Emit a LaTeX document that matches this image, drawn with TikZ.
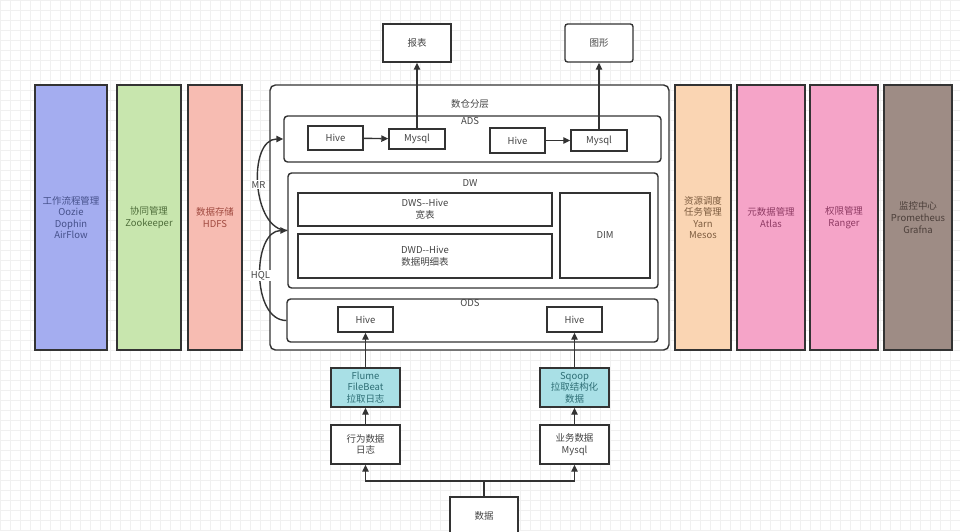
\documentclass[tikz,border=0pt]{standalone}
\usepackage{fontspec}
\setmainfont{Noto Sans CJK SC}
\usetikzlibrary{arrows.meta}

\definecolor{linec}{HTML}{333333}
\definecolor{txtc}{HTML}{444444}
\definecolor{gridc}{HTML}{F0F0F0}
\definecolor{wfblue}{HTML}{A4ADF0}
\definecolor{wftext}{HTML}{45508A}
\definecolor{zkgreen}{HTML}{C8E6AE}
\definecolor{zktext}{HTML}{4F6E3B}
\definecolor{hdfsred}{HTML}{F7BCB2}
\definecolor{hdfstext}{HTML}{A04A40}
\definecolor{yarnpeach}{HTML}{FAD5B3}
\definecolor{yarntext}{HTML}{7D5C3F}
\definecolor{metapink}{HTML}{F5A4C8}
\definecolor{metatext}{HTML}{8E3A63}
\definecolor{monbrown}{HTML}{9E8C85}
\definecolor{montext}{HTML}{4B3E39}
\definecolor{pullcyan}{HTML}{A9E0E6}
\definecolor{pulltext}{HTML}{2E6E75}

\tikzset{
  every node/.style={font=\fontsize{5.4}{6.6}\selectfont, text=txtc},
  colbox/.style={draw=linec, line width=0.8pt, minimum height=5.3cm, align=center, inner sep=0pt},
  plainbox/.style={draw=linec, line width=0.8pt, fill=white, align=center, inner sep=1pt},
  layerbox/.style={plainbox, rounded corners=2pt},
  pullbox/.style={plainbox, fill=pullcyan, text=pulltext},
  flow/.style={draw=linec, line width=0.8pt, -{Triangle[length=4pt,width=3.6pt]}},
  edgelbl/.style={fill=white, inner sep=0.6pt},
}

\begin{document}
\begin{tikzpicture}[x=0.02cm, y=-0.02cm]
  \useasboundingbox (0,0) rectangle (960,531);
  \clip (0,0) rectangle (960,531);
  \fill[white] (0,0) rectangle (960,531);
  \draw[gridc, line width=0.3pt, step=0.2cm] (0,0) grid (960,531);

  % side columns
  \node[colbox, fill=wfblue, text=wftext, minimum width=1.44cm] (workflow) at (71,217.5)
    {工作流程管理\\Oozie\\Dophin\\AirFlow};
  \node[colbox, fill=zkgreen, text=zktext, minimum width=1.28cm] (coord) at (149,217.5)
    {协同管理\\Zookeeper};
  \node[colbox, fill=hdfsred, text=hdfstext, minimum width=1.08cm] (storage) at (215,217.5)
    {数据存储\\HDFS};
  \node[colbox, fill=yarnpeach, text=yarntext, minimum width=1.12cm] (sched) at (703,217.5)
    {资源调度\\任务管理\\Yarn\\Mesos};
  \node[colbox, fill=metapink, text=metatext, minimum width=1.36cm] (meta) at (771,217.5)
    {元数据管理\\Atlas};
  \node[colbox, fill=metapink, text=metatext, minimum width=1.36cm] (auth) at (844,217.5)
    {权限管理\\Ranger};
  \node[colbox, fill=monbrown, text=montext, minimum width=1.36cm] (monitor) at (918,217.5)
    {监控中心\\Prometheus\\Grafna};

  % warehouse layers
  \node[layerbox, rounded corners=3pt, minimum width=7.98cm, minimum height=5.3cm] (dwh) at (469.5,217.5) {};
  \node (dwhlbl) at (470,104) {数仓分层};

  \node[layerbox, minimum width=7.54cm, minimum height=0.92cm] (ads) at (472.5,139) {};
  \node (adslbl) at (470,121) {ADS};
  \node[plainbox, minimum width=1.1cm, minimum height=0.48cm] (adshive) at (335.5,138) {Hive};
  \node[plainbox, minimum width=1.12cm, minimum height=0.4cm] (adsmysql) at (417,139) {Mysql};
  \node[plainbox, minimum width=1.1cm, minimum height=0.5cm] (adshiveb) at (517.5,140.5) {Hive};
  \node[plainbox, minimum width=1.12cm, minimum height=0.42cm] (adsmysqlb) at (599,140.5) {Mysql};

  \node[layerbox, minimum width=7.4cm, minimum height=2.3cm] (dw) at (473,230.5) {};
  \node (dwlbl) at (470,183) {DW};
  \node[plainbox, minimum width=5.08cm, minimum height=0.66cm] (dws) at (425,209.5) {DWS-{}-Hive\\宽表};
  \node[plainbox, minimum width=5.08cm, minimum height=0.88cm] (dwd) at (425,256) {DWD-{}-Hive\\数据明细表};
  \node[plainbox, minimum width=1.8cm, minimum height=1.7cm] (dim) at (605,235.5) {DIM};

  \node[layerbox, minimum width=7.42cm, minimum height=0.86cm] (ods) at (472.5,320.5) {};
  \node (odslbl) at (470,303) {ODS};
  \node[plainbox, minimum width=1.1cm, minimum height=0.5cm] (odshive) at (365.5,319.5) {Hive};
  \node[plainbox, minimum width=1.1cm, minimum height=0.5cm] (odshiveb) at (574.5,319.5) {Hive};

  % outputs
  \node[plainbox, minimum width=1.36cm, minimum height=0.76cm] (report) at (417,43) {报表};
  \node[plainbox, rounded corners=1.5pt, minimum width=1.36cm, minimum height=0.76cm] (chart) at (599,43) {图形};

  % ingestion
  \node[pullbox, minimum width=1.38cm, minimum height=0.78cm] (flume) at (365.5,387.5) {Flume\\FileBeat\\拉取日志};
  \node[pullbox, minimum width=1.38cm, minimum height=0.78cm] (sqoop) at (574.5,387.5) {Sqoop\\拉取结构化\\数据};
  \node[plainbox, minimum width=1.38cm, minimum height=0.78cm] (behav) at (365.5,444.5) {行为数据\\日志};
  \node[plainbox, minimum width=1.38cm, minimum height=0.78cm] (biz) at (574.5,444.5) {业务数据\\Mysql};
  \node[plainbox, minimum width=1.36cm, minimum height=0.76cm] (data) at (484,516) {数据};
  \coordinate (fork) at (484,481);

  % connectors
  \draw[flow] (adshive) -- (adsmysql);
  \draw[flow] (adshiveb) -- (adsmysqlb);
  \draw[flow] (adsmysql) -- (report);
  \draw[flow] (adsmysqlb) -- (chart);
  \draw[flow] (dw.west) to[out=180, in=180] node[edgelbl] (mr) {MR} (ads.west);
  \draw[flow] (ods.west) to[out=180, in=180] node[edgelbl] (hql) {HQL} (dw.west);
  \draw[flow] (flume) -- (odshive);
  \draw[flow] (sqoop) -- (odshiveb);
  \draw[flow] (behav) -- (flume);
  \draw[flow] (biz) -- (sqoop);
  \draw[flow] (data.north) -- (fork) -| (behav.south);
  \draw[flow] (data.north) -- (fork) -| (biz.south);
\end{tikzpicture}
\end{document}
